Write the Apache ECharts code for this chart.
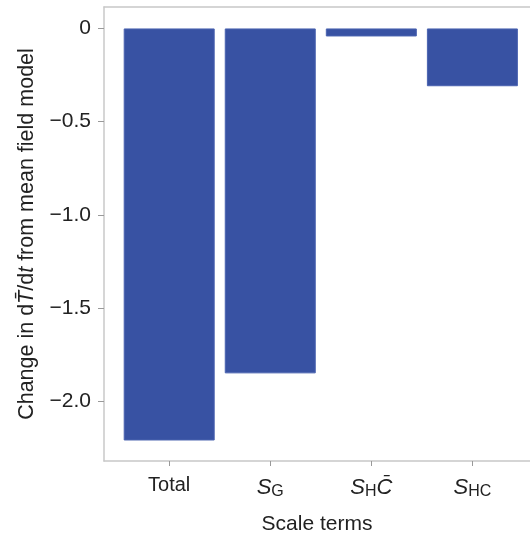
<!DOCTYPE html>
<html><head><meta charset="utf-8">
<script src="https://cdn.jsdelivr.net/npm/echarts@6/dist/echarts.min.js"></script>
<style>html,body{margin:0;padding:0;background:#fff}#c{width:530px;height:534px}</style>
</head><body><div id="c"></div>
<script>
var categories = ['Total', '{s|S}{sub|G}', '{s|S}{sub|H}{c|C\u0304}', '{s|S}{sub|HC}'];
var values = [-2.21, -1.85, -0.043, -0.31];
var yTicks = [0, -0.5, -1.0, -1.5, -2.0];
var yTickLabels = ['0', '\u22120.5', '\u22121.0', '\u22121.5', '\u22122.0'];

var FONT = 'Liberation Sans';
var AX = '#c8c8c8';
var chart = echarts.init(document.getElementById('c'), null, {renderer: 'canvas'});
var xIdx = categories.map(function (c, i) { return i; });
chart.setOption({
  animation: false,
  grid: {left: 104, top: 7, right: 0, bottom: 73, outerBoundsMode: 'none', containLabel: false},
  xAxis: [{
    type: 'value', min: -0.645, max: 3.57,
    name: 'Scale terms', nameLocation: 'middle', nameGap: 53,
    nameTextStyle: {fontFamily: FONT, fontSize: 21, color: '#222'},
    axisLine: {show: true, onZero: false, lineStyle: {color: AX, width: 1.5}},
    axisTick: {show: true, length: 5, lineStyle: {color: '#999'}, customValues: xIdx},
    splitLine: {show: false},
    axisLabel: {
      customValues: xIdx, margin: 14,
      formatter: function (v) { return categories[Math.round(v)]; },
      fontFamily: FONT, fontSize: 20, color: '#222',
      rich: {
        s: {fontFamily: FONT, fontSize: 22, fontStyle: 'italic', color: '#222'},
        sub: {fontFamily: FONT, fontSize: 16, color: '#222', padding: [9, 0, 0, 0]},
        c: {fontFamily: FONT, fontSize: 22, fontStyle: 'italic', color: '#222'}
      }
    }
  }, {
    type: 'value', position: 'top', min: -0.645, max: 3.57,
    axisLine: {show: true, onZero: false, lineStyle: {color: AX, width: 1.5}},
    axisTick: {show: false}, axisLabel: {show: false}, splitLine: {show: false}
  }],
  yAxis: {
    type: 'value', min: -2.32, max: 0.115,
    name: 'Change in d{it|T\u0304}/d{it|t} from mean field model',
    nameLocation: 'middle', nameGap: 66, nameRotate: 90,
    nameTextStyle: {fontFamily: FONT, fontSize: 21.5, color: '#222',
      rich: {it: {fontFamily: FONT, fontSize: 21.5, fontStyle: 'italic', color: '#222'}}},
    axisLine: {show: true, onZero: false, lineStyle: {color: AX, width: 1.5}},
    axisTick: {show: true, length: 6, lineStyle: {color: '#999'}, customValues: yTicks},
    splitLine: {show: false},
    axisLabel: {
      customValues: yTicks, margin: 13,
      formatter: function (v) {
        for (var i = 0; i < yTicks.length; i++) if (Math.abs(yTicks[i] - v) < 1e-6) return yTickLabels[i];
        return '';
      },
      fontFamily: FONT, fontSize: 21, color: '#222'
    }
  },
  series: [{
    type: 'bar',
    xAxisIndex: 0,
    barWidth: 91,
    data: values.map(function (v, i) { return [i, v]; }),
    itemStyle: {color: '#3852a3', borderColor: '#4a63b0', borderWidth: 1}
  }]
});
</script></body></html>
